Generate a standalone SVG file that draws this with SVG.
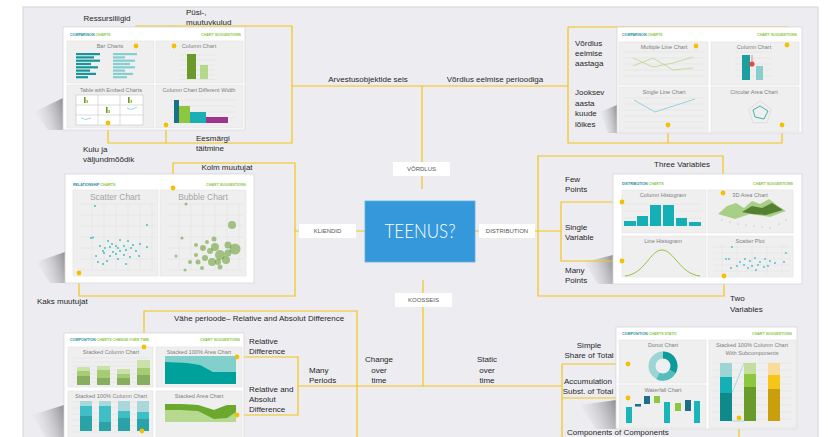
<svg xmlns="http://www.w3.org/2000/svg" width="828" height="437" viewBox="0 0 828 437">
<style>
.lbl{font-family:"Liberation Sans",Arial,sans-serif;font-size:8px;fill:#262626}
.c{text-anchor:middle}
.tag rect{fill:#fff}
.tag text{font-family:"Liberation Sans",Arial,sans-serif;font-size:6px;fill:#555;text-anchor:middle}
.conn path{fill:none;stroke:#F4C316;stroke-width:1.2}
.dot{fill:#F5C000}
.pnl{fill:#fff;stroke:#d6d6d6;stroke-width:0.8}
.sub{fill:#efefef;stroke:#e2e2e2;stroke-width:0.6}
.hd{font-family:"Liberation Sans",Arial,sans-serif;font-size:3.6px;font-weight:bold}
.t1{fill:#1E8FA3}
.t2{fill:#8DC63F}
.ttl{font-family:"Liberation Sans",Arial,sans-serif;font-size:5.6px;fill:#808080;text-anchor:middle}
.big{font-family:"Liberation Sans",Arial,sans-serif;font-size:8.5px;fill:#a5a5a5;text-anchor:middle}
.grid{stroke:#dcdcdc;stroke-width:0.5;fill:none}
.sd{fill:url(#shg)}
</style>
<defs>
<linearGradient id="shg" x1="1" y1="0" x2="0" y2="0.3">
<stop offset="0" stop-color="#8e8e92"/>
<stop offset="1" stop-color="#e6e6ea" stop-opacity="0.3"/>
</linearGradient>
</defs>
<rect x="0" y="0" width="828" height="437" fill="#fff"/>
<rect x="23" y="7" width="795" height="432" fill="#EDEDF1" stroke="#d4d4d8" stroke-width="1"/>

<!-- shadows -->
<polygon class="sd" points="63,98 34,112 48,130 63,130"/>
<polygon class="sd" points="65,252 36,262 50,283 65,283"/>
<polygon class="sd" points="64,405 32,415 45,437 64,437"/>
<polygon class="sd" points="617,105 600,112 608,133 617,133"/>
<polygon class="sd" points="613,255 584,262 598,284 613,284"/>
<polygon class="sd" points="616,400 580,405 596,429 616,429"/>

<g class="conn">
<path d="M136,46 V26 H292 V143 H108 V123 M174,46 V26 M166,125 V143"/>
<path d="M292,86 H568 M422,86 V189"/>
<path d="M568,27 H787 V45 M696,27 V46 M568,27 V143 H782 V125 M668,143 V125"/>
<path d="M173,188 V163 H295 V296 H79 V273 M295,231 H299 M356,231 H365"/>
<path d="M723,193 V156 H538 V296 H724 V276 M475,231 H479 M535,231 H561 M622,202 H561 V261 H622"/>
<path d="M423,280 V386 M298,386 H562 M144,347 V311 H357 V437 M237,357 H298 V415 H237 M562,364 V437 M562,364 H628 M562,398 H628 M142,431 V437 M739,418 V437"/>
</g>

<g id="teenus">
<rect x="365" y="201" width="110" height="61" fill="#3598DB" stroke="#62B0E6" stroke-width="0.8"/>
<text x="420" y="238" font-family="Lato,'Liberation Sans',sans-serif" font-weight="300" font-size="19" fill="#fff" text-anchor="middle" textLength="71" lengthAdjust="spacingAndGlyphs">TEENUS?</text>
</g>
<g id="tag-vordlus" class="tag"><rect x="393" y="162" width="57" height="14"/><text x="421.5" y="171.2">VÕRDLUS</text></g>
<g id="tag-kliendid" class="tag"><rect x="299" y="224" width="57" height="14"/><text x="327.5" y="233.2">KLIENDID</text></g>
<g id="tag-distribution" class="tag"><rect x="479" y="224" width="56" height="14"/><text x="507" y="233.2">DISTRIBUTION</text></g>
<g id="tag-koosseis" class="tag"><rect x="395" y="293" width="57" height="14"/><text x="423.5" y="302.2">KOOSSEIS</text></g>

<!-- Panel 1: comparison -->
<g id="panel-comparison-1">
<rect class="pnl" x="63" y="27" width="182" height="103"/>
<text class="hd" x="70" y="35.5"><tspan class="t1">COMPARISON</tspan><tspan class="t2"> CHARTS</tspan></text>
<text class="hd t2" x="241" y="35.5" text-anchor="end">CHART SUGGESTIONS</text>
<rect class="sub" x="67" y="41" width="87" height="42"/>
<rect class="sub" x="156" y="41" width="87" height="42"/>
<rect class="sub" x="67" y="85" width="87" height="43"/>
<rect class="sub" x="156" y="85" width="87" height="43"/>
<text class="ttl" x="110" y="48">Bar Charts</text>
<text class="ttl" x="199" y="48">Column Chart</text>
<text class="ttl" x="111" y="92">Table with Embed Charts</text>
<text class="ttl" x="199" y="92">Column Chart Different Width</text>
<g fill="#17979A">
<rect x="76" y="53" width="24" height="2.2"/><rect x="76" y="56.3" width="18" height="2.2"/><rect x="76" y="59.6" width="24" height="2.2"/><rect x="76" y="62.9" width="15" height="2.2"/><rect x="76" y="66.2" width="22" height="2.2"/><rect x="76" y="69.5" width="14" height="2.2"/><rect x="76" y="72.8" width="20" height="2.2"/><rect x="76" y="76.1" width="12" height="2.2"/>
</g>
<g fill="#86CFD0">
<rect x="113" y="53" width="24" height="2.2"/><rect x="113" y="56.3" width="12" height="2.2"/><rect x="113" y="59.6" width="22" height="2.2"/><rect x="113" y="62.9" width="17" height="2.2"/><rect x="113" y="66.2" width="22" height="2.2"/><rect x="113" y="69.5" width="12" height="2.2"/><rect x="113" y="72.8" width="20" height="2.2"/><rect x="113" y="76.1" width="14" height="2.2"/>
</g>
<path class="grid" d="M180,55 H215 M180,60 H215 M180,65 H215 M180,70 H215 M180,75 H215 M180,79.5 H215"/>
<rect x="187" y="54" width="9" height="25" fill="#6A9A2A"/>
<rect x="200" y="65" width="8" height="14" fill="#B5D98A"/>
<rect x="76" y="95" width="67" height="30" fill="#fff" stroke="#bbb" stroke-width="0.5"/>
<path d="M98,95 V125 M120,95 V125 M76,105 H143 M76,115 H143" stroke="#bbb" stroke-width="0.5"/>
<rect x="84" y="97" width="1.6" height="6" fill="#6A9A2A"/><rect x="86.5" y="100" width="1.4" height="3" fill="#8DC63F"/>
<rect x="128" y="97" width="1.6" height="6" fill="#6A9A2A"/><rect x="130.5" y="100" width="1.4" height="3" fill="#8DC63F"/>
<rect x="106" y="107" width="1.6" height="6" fill="#6A9A2A"/><rect x="108.5" y="110" width="1.4" height="3" fill="#8DC63F"/>
<path d="M127,108 Q131,111 137,107 M81,118 Q86,121 91,118" stroke="#7FCFD0" stroke-width="0.8" fill="none"/>
<path class="grid" d="M170,100 H236 M170,106 H236 M170,112 H236 M170,118 H236"/>
<rect x="174" y="100" width="5" height="23" fill="#1B6F87"/>
<rect x="179" y="106" width="11" height="17" fill="#8DC63F"/>
<rect x="190" y="112" width="16" height="11" fill="#1AAFB5"/>
<rect x="206" y="117" width="22" height="6" fill="#A0348A"/>
</g>

<!-- Panel 3: comparison top-right -->
<g id="panel-comparison-2">
<rect class="pnl" x="617" y="27" width="185" height="106"/>
<text class="hd" x="622" y="35.5"><tspan class="t1">COMPARISON</tspan><tspan class="t2"> CHARTS</tspan></text>
<text class="hd t2" x="797" y="35.5" text-anchor="end">CHART SUGGESTIONS</text>
<rect class="sub" x="619" y="42" width="89" height="43"/>
<rect class="sub" x="711" y="42" width="88" height="43"/>
<rect class="sub" x="619" y="87" width="89" height="45"/>
<rect class="sub" x="711" y="87" width="88" height="45"/>
<text class="ttl" x="664" y="48.5">Multiple Line Chart</text>
<text class="ttl" x="754" y="48.5">Column Chart</text>
<text class="ttl" x="664" y="94">Single Line Chart</text>
<text class="ttl" x="754" y="94">Circular Area Chart</text>
<path class="grid" d="M624,52 H704 M624,58 H704 M624,64 H704 M624,70 H704 M624,76 H704"/>
<polyline points="633,58 653,67 673,63 693,57" fill="none" stroke="#B5D98A" stroke-width="0.8"/>
<polyline points="633,66 653,58 673,70 693,68" fill="none" stroke="#B5D98A" stroke-width="0.8"/>
<path class="grid" d="M735,52 H772 M735,58 H772 M735,64 H772 M735,70 H772 M735,76 H772"/>
<rect x="742" y="55" width="8" height="25" fill="#1A9E9E"/>
<rect x="756" y="66" width="7" height="14" fill="#8ACDCF"/>
<line x1="752" y1="55" x2="752" y2="63" stroke="#E8483B" stroke-width="0.6"/>
<circle cx="752" cy="64" r="2.6" fill="#E8483B"/>
<path class="grid" d="M624,98 H704 M624,104 H704 M624,110 H704 M624,116 H704 M624,122 H704 M624,128 H704"/>
<polyline points="634,100 655,112 695,99" fill="none" stroke="#7CCBD0" stroke-width="0.8"/>
<polygon points="760,101 771.4,109.3 767,122.7 753,122.7 748.6,109.3" fill="none" stroke="#ccc" stroke-width="0.5"/>
<polygon points="760,106 768,111 764,119 755,117 753,110" fill="none" stroke="#1A9E9E" stroke-width="0.8"/>
</g>

<!-- Panel 2: relationship -->
<g id="panel-relationship">
<rect class="pnl" x="65" y="174" width="189" height="109"/>
<text class="hd" x="73" y="185.5"><tspan class="t1">RELATIONSHIP</tspan><tspan class="t2"> CHARTS</tspan></text>
<text class="hd t2" x="246" y="185.5" text-anchor="end">CHART SUGGESTIONS</text>
<rect class="sub" x="73" y="190" width="85" height="86"/>
<rect class="sub" x="160" y="190" width="86" height="86"/>
<text class="big" x="115" y="200">Scatter Chart</text>
<text class="big" x="203" y="200">Bubble Chart</text>
<path class="grid" d="M80,204 H155 M80,215 H155 M80,226 H155 M80,237 H155 M80,248 H155 M80,259 H155 M80,270 H155 M92,204 V270 M104,204 V270 M116,204 V270 M128,204 V270 M140,204 V270 M152,204 V270"/>
<path class="grid" d="M167,204 H243 M167,215 H243 M167,226 H243 M167,237 H243 M167,248 H243 M167,259 H243 M167,270 H243 M179,204 V270 M191,204 V270 M203,204 V270 M215,204 V270 M227,204 V270 M239,204 V270"/>
<g fill="#3FBFC4">
<circle cx="95" cy="206" r="1"/><circle cx="147" cy="225" r="1"/><circle cx="91" cy="238" r="1"/><circle cx="93" cy="237.5" r="1"/><circle cx="108" cy="241" r="1"/><circle cx="120" cy="240" r="1"/><circle cx="128" cy="241" r="1"/><circle cx="112" cy="244" r="1"/><circle cx="100" cy="246" r="1"/><circle cx="116" cy="246" r="1"/><circle cx="124" cy="246" r="1"/><circle cx="133" cy="245" r="1"/><circle cx="140" cy="244" r="1"/><circle cx="147" cy="247" r="1"/><circle cx="105" cy="248" r="1"/><circle cx="110" cy="247" r="1"/><circle cx="118" cy="248" r="1"/><circle cx="126" cy="250" r="1"/><circle cx="131" cy="248" r="1"/><circle cx="120" cy="251" r="1"/><circle cx="103" cy="251" r="1"/><circle cx="113" cy="252" r="1"/><circle cx="136" cy="251" r="1"/><circle cx="96" cy="256" r="1"/><circle cx="104" cy="253" r="1"/><circle cx="110" cy="256" r="1"/><circle cx="116" cy="254" r="1"/><circle cx="124" cy="255" r="1"/><circle cx="130" cy="257" r="1"/><circle cx="139" cy="256" r="1"/><circle cx="98" cy="262" r="1"/><circle cx="107" cy="261" r="1"/><circle cx="118" cy="259" r="1"/><circle cx="126" cy="264" r="1"/><circle cx="103" cy="264" r="1"/>
</g>
<g fill="#5E9A2A" fill-opacity="0.55">
<circle cx="186" cy="204" r="1.6"/><circle cx="182" cy="238" r="1.6"/><circle cx="196" cy="245" r="2"/><circle cx="203" cy="248" r="3"/><circle cx="210" cy="251" r="3"/><circle cx="215" cy="247" r="4"/><circle cx="220" cy="255" r="5"/><circle cx="212" cy="262" r="4"/><circle cx="205" cy="258" r="3"/><circle cx="198" cy="262" r="2.5"/><circle cx="190" cy="262" r="2"/><circle cx="185" cy="270" r="1.5"/><circle cx="226" cy="260" r="4"/><circle cx="228" cy="253" r="3.5"/><circle cx="228" cy="245" r="3.5"/><circle cx="232" cy="225" r="4"/><circle cx="235" cy="249" r="5.5"/><circle cx="220" cy="267" r="2.5"/><circle cx="196" cy="255" r="2"/><circle cx="202" cy="268" r="2"/><circle cx="176" cy="256" r="1.5"/><circle cx="214" cy="239" r="2.5"/><circle cx="207" cy="242" r="2"/><circle cx="218" cy="262" r="3"/>
</g>
</g>

<!-- Panel 4: distribution -->
<g id="panel-distribution">
<rect class="pnl" x="613" y="174" width="189" height="110"/>
<text class="hd" x="622" y="185"><tspan class="t1">DISTRIBUTION</tspan><tspan class="t2"> CHARTS</tspan></text>
<text class="hd t2" x="793" y="185" text-anchor="end">CHART SUGGESTIONS</text>
<rect class="sub" x="622" y="190" width="84" height="43"/>
<rect class="sub" x="708" y="190" width="85" height="43"/>
<rect class="sub" x="622" y="236" width="84" height="41"/>
<rect class="sub" x="708" y="236" width="85" height="41"/>
<text class="ttl" x="663" y="196.5">Column Histogram</text>
<text class="ttl" x="750" y="196.5">3D Area Chart</text>
<text class="ttl" x="663" y="242.5">Line Histogram</text>
<text class="ttl" x="750" y="242.5">Scatter Plot</text>
<path class="grid" d="M624,204 H702 M624,211 H702 M624,218 H702"/>
<g fill="#14B0B5">
<rect x="624" y="221" width="12" height="5"/><rect x="637" y="216" width="11" height="10"/><rect x="650" y="205" width="11" height="21"/><rect x="663" y="205" width="11" height="21"/><rect x="676" y="218" width="11" height="8"/><rect x="689" y="222" width="12" height="4"/>
</g>
<polygon points="718,214 727,206 736,203 744,208 752,201 760,204 769,199 778,206 786,211 770,217 750,214 735,219" fill="#A9CF86"/>
<polygon points="742,212 752,206 762,208 772,203 783,210 766,215 752,214" fill="#557F33"/>
<g fill="#aaa"><circle cx="722" cy="220" r="0.6"/><circle cx="730" cy="222" r="0.6"/><circle cx="738" cy="224" r="0.6"/><circle cx="746" cy="225" r="0.6"/><circle cx="754" cy="226" r="0.6"/><circle cx="762" cy="227" r="0.6"/><circle cx="770" cy="228" r="0.6"/><circle cx="779" cy="224" r="0.6"/><circle cx="786" cy="220" r="0.6"/></g>
<path d="M625,276 C645,274 650,250 662,250 C674,250 680,274 700,276" fill="none" stroke="#8DC63F" stroke-width="1"/>
<path class="grid" d="M713,247 H790 M713,253 H790 M713,259 H790 M713,265 H790 M713,271 H790 M722,245 V274 M737,245 V274 M752,245 V274 M767,245 V274 M782,245 V274"/>
<g fill="#3FBFC4">
<circle cx="732" cy="247" r="0.9"/><circle cx="786" cy="253" r="0.9"/><circle cx="726" cy="259" r="0.9"/><circle cx="729" cy="259" r="0.9"/><circle cx="740" cy="262" r="0.9"/><circle cx="745" cy="259" r="0.9"/><circle cx="750" cy="261" r="0.9"/><circle cx="755" cy="258" r="0.9"/><circle cx="760" cy="262" r="0.9"/><circle cx="765" cy="259" r="0.9"/><circle cx="770" cy="261" r="0.9"/><circle cx="744" cy="265" r="0.9"/><circle cx="752" cy="266" r="0.9"/><circle cx="758" cy="265" r="0.9"/><circle cx="764" cy="267" r="0.9"/><circle cx="748" cy="268" r="0.9"/><circle cx="737" cy="266" r="0.9"/><circle cx="775" cy="263" r="0.9"/><circle cx="784" cy="262" r="0.9"/><circle cx="731" cy="268" r="0.9"/><circle cx="756" cy="270" r="0.9"/><circle cx="768" cy="266" r="0.9"/></g>
</g>

<!-- Panel 5: composition over time -->
<g id="panel-composition-time">
<rect class="pnl" x="64" y="333" width="180" height="106"/>
<text class="hd" x="70" y="341"><tspan class="t1">COMPOSITION</tspan><tspan class="t2"> CHARTS CHANGE OVER TIME</tspan></text>
<text class="hd t2" x="240" y="341" text-anchor="end">CHART SUGGESTIONS</text>
<rect class="sub" x="68" y="347" width="85" height="40"/>
<rect class="sub" x="156" y="347" width="86" height="40"/>
<rect class="sub" x="68" y="391" width="85" height="48"/>
<rect class="sub" x="156" y="391" width="86" height="48"/>
<text class="ttl" x="111" y="353.5">Stacked Column Chart</text>
<text class="ttl" x="199" y="353.5">Stacked 100% Area Chart</text>
<text class="ttl" x="111" y="397.5">Stacked 100% Column Chart</text>
<text class="ttl" x="199" y="397.5">Stacked Area Chart</text>
<path class="grid" d="M72,358 H150 M72,362 H150 M72,366 H150 M72,370 H150 M72,374 H150 M72,378 H150 M72,382 H150"/>
<g>
<rect x="77" y="367" width="13" height="4" fill="#C8E2A8"/><rect x="77" y="371" width="13" height="5" fill="#A5CC72"/><rect x="77" y="376" width="13" height="9" fill="#86AE5E"/>
<rect x="97" y="366" width="13" height="4" fill="#C8E2A8"/><rect x="97" y="370" width="13" height="8" fill="#A5CC72"/><rect x="97" y="378" width="13" height="7" fill="#86AE5E"/>
<rect x="117" y="369" width="13" height="5" fill="#C8E2A8"/><rect x="117" y="374" width="13" height="4" fill="#A5CC72"/><rect x="117" y="378" width="13" height="7" fill="#86AE5E"/>
<rect x="137" y="360" width="13" height="8" fill="#C8E2A8"/><rect x="137" y="368" width="13" height="7" fill="#A5CC72"/><rect x="137" y="375" width="13" height="10" fill="#86AE5E"/>
</g>
<rect x="165" y="356" width="71" height="28" fill="#82CFCB"/>
<polygon points="165,362 187,363 200,365 213,372 236,372 236,384 165,384" fill="#00A19B"/>
<path class="grid" d="M72,402 H150 M72,408 H150 M72,414 H150 M72,420 H150 M72,426 H150 M72,432 H150"/>
<g>
<rect x="80" y="401" width="12" height="5" fill="#A8D8DA"/><rect x="80" y="406" width="12" height="10" fill="#3EBFC5"/><rect x="80" y="416" width="12" height="15" fill="#2AA3A8"/>
<rect x="99" y="401" width="12" height="5" fill="#A8D8DA"/><rect x="99" y="406" width="12" height="16" fill="#3EBFC5"/><rect x="99" y="422" width="12" height="9" fill="#2AA3A8"/>
<rect x="118" y="401" width="12" height="10" fill="#A8D8DA"/><rect x="118" y="411" width="12" height="7" fill="#3EBFC5"/><rect x="118" y="418" width="12" height="13" fill="#2AA3A8"/>
<rect x="137" y="401" width="12" height="11" fill="#A8D8DA"/><rect x="137" y="412" width="12" height="7" fill="#3EBFC5"/><rect x="137" y="419" width="12" height="12" fill="#2AA3A8"/>
</g>
<polygon points="165,404 180,404 198,405 214,410 227,405 236,405 236,422 165,422" fill="#B6D98F"/>
<polygon points="165,404 180,404 198,405 214,410 227,405 236,405 236,412 227,418 214,419 198,411 180,410 165,410" fill="#6AA82E"/>
</g>

<!-- Panel 6: composition static -->
<g id="panel-composition-static">
<rect class="pnl" x="616" y="327" width="181" height="102"/>
<text class="hd" x="622" y="335"><tspan class="t1">COMPOSITION</tspan><tspan class="t2"> CHARTS STATIC</tspan></text>
<text class="hd t2" x="792" y="335" text-anchor="end">CHART SUGGESTIONS</text>
<rect class="sub" x="619" y="340" width="87" height="43"/>
<rect class="sub" x="619" y="385" width="87" height="43"/>
<rect class="sub" x="709" y="340" width="87" height="88"/>
<text class="ttl" x="663" y="347">Donut Chart</text>
<text class="ttl" x="663" y="391.5">Waterfall Chart</text>
<text class="ttl" x="752" y="347">Stacked 100% Column Chart</text>
<text class="ttl" x="752" y="354.5">With Subcomponents</text>
<circle cx="663" cy="366" r="11" fill="none" stroke="#9DD4D4" stroke-width="7"/>
<path d="M663,355 A11,11 0 0 1 672.5,371.5" fill="none" stroke="#0E9C9A" stroke-width="7"/>
<path d="M672.5,371.5 A11,11 0 0 1 658,376" fill="none" stroke="#54BDBE" stroke-width="7"/>
<rect x="626" y="407" width="6" height="16" fill="#1AB5B8"/>
<rect x="635" y="404" width="6" height="2.5" fill="#1B6F87"/>
<rect x="644" y="396" width="6" height="8" fill="#1B6F87"/>
<rect x="654" y="396" width="6" height="7" fill="#8DC63F"/>
<rect x="664" y="402" width="6" height="21" fill="#1AB5B8"/>
<rect x="675" y="403" width="6" height="8" fill="#8DC63F"/>
<rect x="685" y="400" width="6" height="11" fill="#1B6F87"/>
<rect x="694" y="401" width="6" height="22" fill="#1AB5B8"/>
<path class="grid" d="M713,363 H792 M713,370 H792 M713,377 H792 M713,384 H792 M713,391 H792 M713,398 H792 M713,405 H792 M713,412 H792 M713,419 H792"/>
<rect x="720" y="363" width="12" height="14" fill="#9DD4D4"/><rect x="720" y="377" width="12" height="16" fill="#14B0B5"/><rect x="720" y="393" width="12" height="28" fill="#0E8A8A"/>
<rect x="744" y="363" width="12" height="11" fill="#C3DE9E"/><rect x="744" y="374" width="12" height="13" fill="#8DC63F"/><rect x="744" y="387" width="12" height="34" fill="#6A9A2A"/>
<rect x="768" y="363" width="12" height="12" fill="#F9DC9A"/><rect x="768" y="375" width="12" height="14" fill="#F5C518"/><rect x="768" y="389" width="12" height="32" fill="#C9A00C"/>
<path d="M732,393 L744,363 M732,421 L744,421" stroke="#7CCBD0" stroke-width="0.6" fill="none"/>
</g>

<g id="dots">
<circle class="dot" cx="136" cy="46" r="2.4"/><circle class="dot" cx="174" cy="46" r="2.4"/><circle class="dot" cx="108" cy="123" r="2.4"/><circle class="dot" cx="166" cy="125" r="2.4"/>
<circle class="dot" cx="696" cy="46" r="2.4"/><circle class="dot" cx="787" cy="45" r="2.4"/><circle class="dot" cx="668" cy="125" r="2.4"/><circle class="dot" cx="782" cy="125" r="2.4"/>
<circle class="dot" cx="173" cy="188" r="2.4"/><circle class="dot" cx="79" cy="273" r="2.4"/>
<circle class="dot" cx="723" cy="193" r="2.4"/><circle class="dot" cx="724" cy="276" r="2.4"/><circle class="dot" cx="622" cy="202" r="2.4"/><circle class="dot" cx="622" cy="261" r="2.4"/>
<circle class="dot" cx="144" cy="347" r="2.4"/><circle class="dot" cx="237" cy="357" r="2.4"/><circle class="dot" cx="237" cy="415" r="2.4"/><circle class="dot" cx="142" cy="431" r="2.4"/>
<circle class="dot" cx="628" cy="364" r="2.4"/><circle class="dot" cx="628" cy="398" r="2.4"/><circle class="dot" cx="739" cy="418" r="2.4"/>
</g>

<g id="labels">
<text class="lbl c" x="107" y="21">Ressursiliigid</text>
<text class="lbl" x="186" y="15">Püsi-,<tspan x="186" y="25">muutuvkulud</tspan></text>
<text class="lbl" x="83" y="152">Kulu ja<tspan x="83" y="162">väljundmõõdik</tspan></text>
<text class="lbl" x="196" y="141">Eesmärgi<tspan x="196" y="151">täitmine</tspan></text>
<text class="lbl c" x="368" y="82">Arvestusobjektide seis</text>
<text class="lbl c" x="495" y="82">Võrdlus eelmise perioodiga</text>
<text class="lbl" x="575" y="46">Võrdlus<tspan x="575" y="56">eelmise</tspan><tspan x="575" y="66">aastaga</tspan></text>
<text class="lbl" x="575" y="95">Jooksev<tspan x="575" y="105.5">aasta</tspan><tspan x="575" y="116">kuude</tspan><tspan x="575" y="126.5">lõikes</tspan></text>
<text class="lbl c" x="227" y="170">Kolm muutujat</text>
<text class="lbl" x="37" y="304">Kaks muutujat</text>
<text class="lbl c" x="682" y="167">Three Variables</text>
<text class="lbl" x="565" y="182">Few<tspan x="565" y="192">Points</tspan></text>
<text class="lbl" x="565" y="230">Single<tspan x="565" y="240">Variable</tspan></text>
<text class="lbl" x="565" y="273">Many<tspan x="565" y="283">Points</tspan></text>
<text class="lbl" x="730" y="301">Two<tspan x="730" y="312">Variables</tspan></text>
<text class="lbl" x="174" y="321">Vähe perioode– Relative and Absolut Difference</text>
<text class="lbl" x="249" y="344">Relative<tspan x="249" y="354">Difference</tspan></text>
<text class="lbl" x="309" y="373">Many<tspan x="309" y="383">Periods</tspan></text>
<text class="lbl" x="249" y="392">Relative and<tspan x="249" y="402">Absolut</tspan><tspan x="249" y="412">Difference</tspan></text>
<text class="lbl c" x="379" y="362">Change<tspan x="379" y="372.5">over</tspan><tspan x="379" y="383">time</tspan></text>
<text class="lbl c" x="487" y="362">Static<tspan x="487" y="372.5">over</tspan><tspan x="487" y="383">time</tspan></text>
<text class="lbl c" x="589" y="348">Simple<tspan x="589" y="358">Share of Total</tspan></text>
<text class="lbl c" x="588" y="384">Accumulation<tspan x="588" y="394">Subst. of Total</tspan></text>
<text class="lbl" x="567" y="434.5">Components of Components</text>
</g>
</svg>
